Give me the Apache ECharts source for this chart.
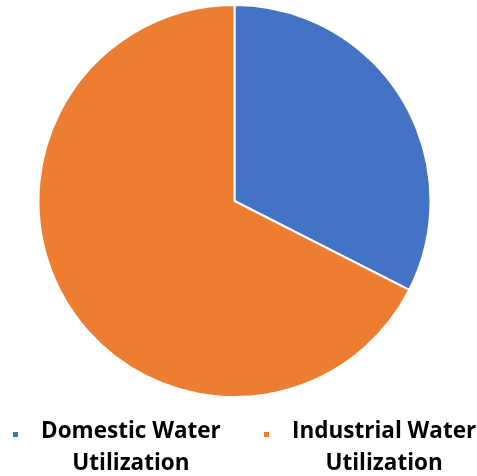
<!DOCTYPE html>
<html>
<head>
<meta charset="utf-8">
<script src="https://cdn.jsdelivr.net/npm/echarts@6/dist/echarts.min.js"></script>
<style>html,body{margin:0;padding:0;background:#fff}#c{width:477px;height:476px}</style>
</head>
<body>
<div id="c"></div>
<script>
const categories = ['Domestic Water Utilization', 'Industrial Water Utilization'];
const values = [32.5, 67.5];
const colors = ['#4472C4', '#ED7D31'];
const legendLines = {
  'Domestic Water Utilization': ['Domestic Water', 'Utilization'],
  'Industrial Water Utilization': ['Industrial Water', 'Utilization']
};

const chart = echarts.init(document.getElementById('c'), null, {renderer: 'canvas'});
const iconPath = 'path://M0,3h7v7h-7z M0,0h0.01v0.01z M24,39h-0.01v-0.01z';
function makeLegend(name, left) {
  return {
    data: [name],
    left: left,
    top: 420,
    padding: 0,
    orient: 'horizontal',
    icon: iconPath,
    itemWidth: 24,
    itemHeight: 39,
    symbolKeepAspect: false,
    selectedMode: false,
    formatter: n => legendLines[n].map(s => '{a|' + s + '}').join('\n'),
    textStyle: {
      rich: {
        a: {
          align: 'center',
          fontSize: 22.5,
          fontWeight: 'bold',
          fontFamily: 'Open Sans',
          lineHeight: 32,
          color: '#000'
        }
      }
    }
  };
}
chart.setOption({
  animation: false,
  color: colors,
  legend: [makeLegend(categories[0], 11), makeLegend(categories[1], 262)],
  series: [{
    type: 'pie',
    center: [234.5, 201],
    radius: 196,
    startAngle: 90,
    clockwise: true,
    label: {show: false},
    labelLine: {show: false},
    emphasis: {disabled: true},
    itemStyle: {borderColor: '#fff', borderWidth: 2},
    data: categories.map((c, i) => ({name: c, value: values[i]}))
  }]
});
</script>
</body>
</html>
